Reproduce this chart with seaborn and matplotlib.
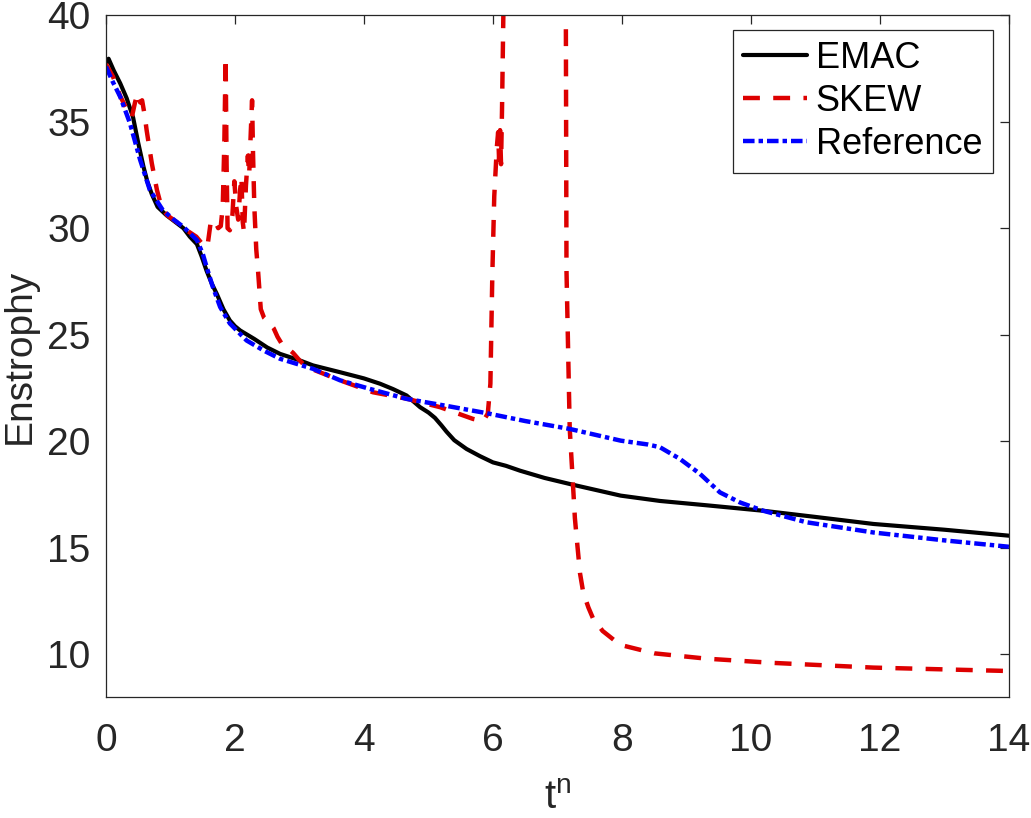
import numpy as np
import pandas as pd
import matplotlib
matplotlib.use("Agg")
import matplotlib.pyplot as plt
import seaborn as sns

# ---------------- data ----------------
emac_t = [0, 0.04, 0.12, 0.22, 0.32, 0.42, 0.5, 0.58, 0.64, 0.71, 0.8, 0.94, 1.07, 1.2, 1.3,
          1.41, 1.48, 1.56, 1.64, 1.72, 1.82, 1.92, 2.0, 2.08, 2.3, 2.5, 2.7, 3.0, 3.21, 3.63,
          4.0, 4.25, 4.45, 4.66, 4.87, 5.0, 5.10, 5.2, 5.28, 5.4, 5.59, 5.8, 6.0, 6.2, 6.42,
          6.8, 7.24, 7.98, 8.59, 9.3, 10.19, 11.0, 11.9, 13.0, 14.0]
emac_v = [37.7, 37.95, 37.4, 36.8, 36.1, 35.2, 34.0, 32.9, 32.2, 31.6, 31.0, 30.6, 30.3, 30.0, 29.6,
          29.25, 28.7, 28.0, 27.4, 26.9, 26.2, 25.67, 25.4, 25.2, 24.8, 24.4, 24.1, 23.8, 23.56, 23.24,
          22.95, 22.7, 22.45, 22.15, 21.6, 21.35, 21.1, 20.75, 20.45, 20.05, 19.64, 19.3, 19.01, 18.85, 18.62,
          18.28, 17.96, 17.45, 17.2, 17.0, 16.74, 16.45, 16.12, 15.85, 15.57]

skew_t = [0, 0.11, 0.22, 0.32, 0.40, 0.45, 0.49, 0.53, 0.56, 0.6, 0.63, 0.71, 0.79, 0.86, 0.95,
          1.09, 1.25, 1.40, 1.51, 1.55, 1.58, 1.62, 1.68, 1.74, 1.78, 1.81, 1.835, 1.855, 1.87,
          1.885, 1.92, 1.96, 1.99, 2.02, 2.05, 2.08, 2.10, 2.12, 2.14, 2.17, 2.20, 2.22, 2.245,
          2.265, 2.28, 2.30, 2.33, 2.36, 2.40, 2.45, 2.52, 2.60, 2.66, 2.72, 2.80, 2.90, 3.0, 3.1,
          3.63, 4.14, 4.66, 5.18, 5.69, 5.85, 5.92, 5.96, 5.99, 6.02, 6.06, 6.08, 6.095, 6.11,
          6.125, 6.14, 6.16, 6.22, 6.6, 7.05, 7.11, 7.13, 7.14, 7.19, 7.24, 7.27, 7.30, 7.35,
          7.40, 7.48, 7.55, 7.7, 7.97, 8.5, 9.31, 10.35, 11.9, 14.0]
skew_v = [37.7, 37.1, 36.2, 35.6, 35.2, 35.9, 36.33, 35.9, 36.0, 35.3, 34.6, 33.05, 31.79, 31.0, 30.6,
          30.3, 29.9, 29.6, 29.2, 29.1, 29.3, 30.2, 30.4, 30.0, 30.1, 31.0, 34.0, 38.0, 33.0,
          30.0, 29.9, 30.6, 32.2, 31.0, 30.4, 31.8, 32.4, 30.3, 29.8, 32.0, 33.4, 32.5, 34.5,
          36.0, 33.5, 31.0, 29.0, 27.9, 26.2, 25.8, 25.6, 25.3, 24.9, 24.6, 24.4, 24.15, 23.8, 23.5,
          22.86, 22.3, 22.0, 21.6, 21.05, 20.95, 21.3, 22.7, 27.8, 31.5, 33.8, 34.5, 33.2, 34.6,
          33.0, 35.5, 39.8, 48.0, 55.0, 52.0, 46.0, 40.0, 28.0, 20.6, 18.0, 16.4, 15.4, 13.8,
          12.9, 12.2, 11.7, 11.1, 10.45, 10.05, 9.8, 9.6, 9.38, 9.22]

ref_t = [0, 0.1, 0.22, 0.37, 0.53, 0.68, 0.88, 1.05, 1.2, 1.41, 1.5, 1.56, 1.65, 1.77, 1.92,
         2.18, 2.45, 2.70, 3.21, 3.63, 4.1, 4.66, 5.3, 5.9, 6.5, 7.19, 7.98, 8.4, 8.59, 8.9,
         9.21, 9.52, 9.83, 10.19, 10.86, 11.9, 13.0, 14.0]
ref_v = [37.58, 36.9, 36.17, 34.94, 33.2, 31.79, 30.85, 30.4, 30.06, 29.44, 28.8, 28.18, 27.3, 26.3, 25.53,
         24.73, 24.25, 23.87, 23.4, 22.86, 22.45, 21.99, 21.65, 21.32, 20.95, 20.58, 20.03, 19.85, 19.72, 19.17,
         18.47, 17.6, 17.13, 16.74, 16.2, 15.72, 15.35, 15.05]

x_ticks = [0, 2, 4, 6, 8, 10, 12, 14]
y_ticks = [10, 15, 20, 25, 30, 35, 40]
series_names = ["EMAC", "SKEW", "Reference"]

# ---------------- style ----------------
sns.set_theme(style="white")
plt.rcParams["font.family"] = ["Liberation Sans", "DejaVu Sans"]
plt.rcParams["mathtext.fontset"] = "custom"
plt.rcParams["mathtext.rm"] = "Liberation Sans"
plt.rcParams["mathtext.it"] = "Liberation Sans"
axcol = "#262626"

fig = plt.figure(figsize=(10.31, 8.18), dpi=100)
ax = fig.add_axes([0.1028, 0.1479, 0.8758, 0.8337])

df_e = pd.DataFrame({"t": emac_t, "v": emac_v})
df_s = pd.DataFrame({"t": skew_t, "v": skew_v})
df_r = pd.DataFrame({"t": ref_t, "v": ref_v})

sns.lineplot(data=df_e, x="t", y="v", color="black", linewidth=3.0, ax=ax,
             label=series_names[0], estimator=None, sort=False)
sns.lineplot(data=df_s, x="t", y="v", color="#DD0000", linewidth=3.2, ax=ax,
             label=series_names[1], estimator=None, sort=False)
sns.lineplot(data=df_r, x="t", y="v", color="#0000FF", linewidth=3.2, ax=ax,
             label=series_names[2], estimator=None, sort=False)

lines = ax.get_lines()
lines[0].set_solid_joinstyle("round")
lines[1].set_dashes((3.8, 3.0))
lines[1].set_dash_capstyle("butt")
lines[2].set_dashes((2.6, 0.9, 1.0, 0.9))
lines[2].set_dash_capstyle("butt")

ax.set_xlim(0, 14)
ax.set_ylim(8, 40)
ax.set_xticks(x_ticks)
ax.set_yticks(y_ticks)
ax.set_xticklabels([str(v) for v in x_ticks])
ax.set_yticklabels([str(v) for v in y_ticks])

for s in ax.spines.values():
    s.set_visible(True)
    s.set_color(axcol)
    s.set_linewidth(0.9)

ax.tick_params(axis="both", direction="in", length=6.5, width=0.9, color=axcol,
               labelcolor=axcol, labelsize=28, top=True, right=True)
ax.tick_params(axis="x", pad=19)
ax.tick_params(axis="y", pad=11)

ax.set_xlabel(r"$\mathrm{t}^{\mathrm{n}}$", fontsize=29, color=axcol, labelpad=14)
ax.set_ylabel("Enstrophy", fontsize=28, color=axcol, labelpad=7)

leg = ax.legend(loc="upper right", bbox_to_anchor=(0.9823, 0.978), borderaxespad=0,
                fontsize=26, frameon=True, fancybox=False, handlelength=1.75,
                handletextpad=0.25, labelspacing=0.22, borderpad=0.3)
leg.get_frame().set_edgecolor(axcol)
leg.get_frame().set_linewidth(0.9)
leg.get_frame().set_facecolor("white")
leg.get_frame().set_alpha(1.0)
for txt in leg.get_texts():
    txt.set_color("black")

fig.savefig("out.png", dpi=100)
